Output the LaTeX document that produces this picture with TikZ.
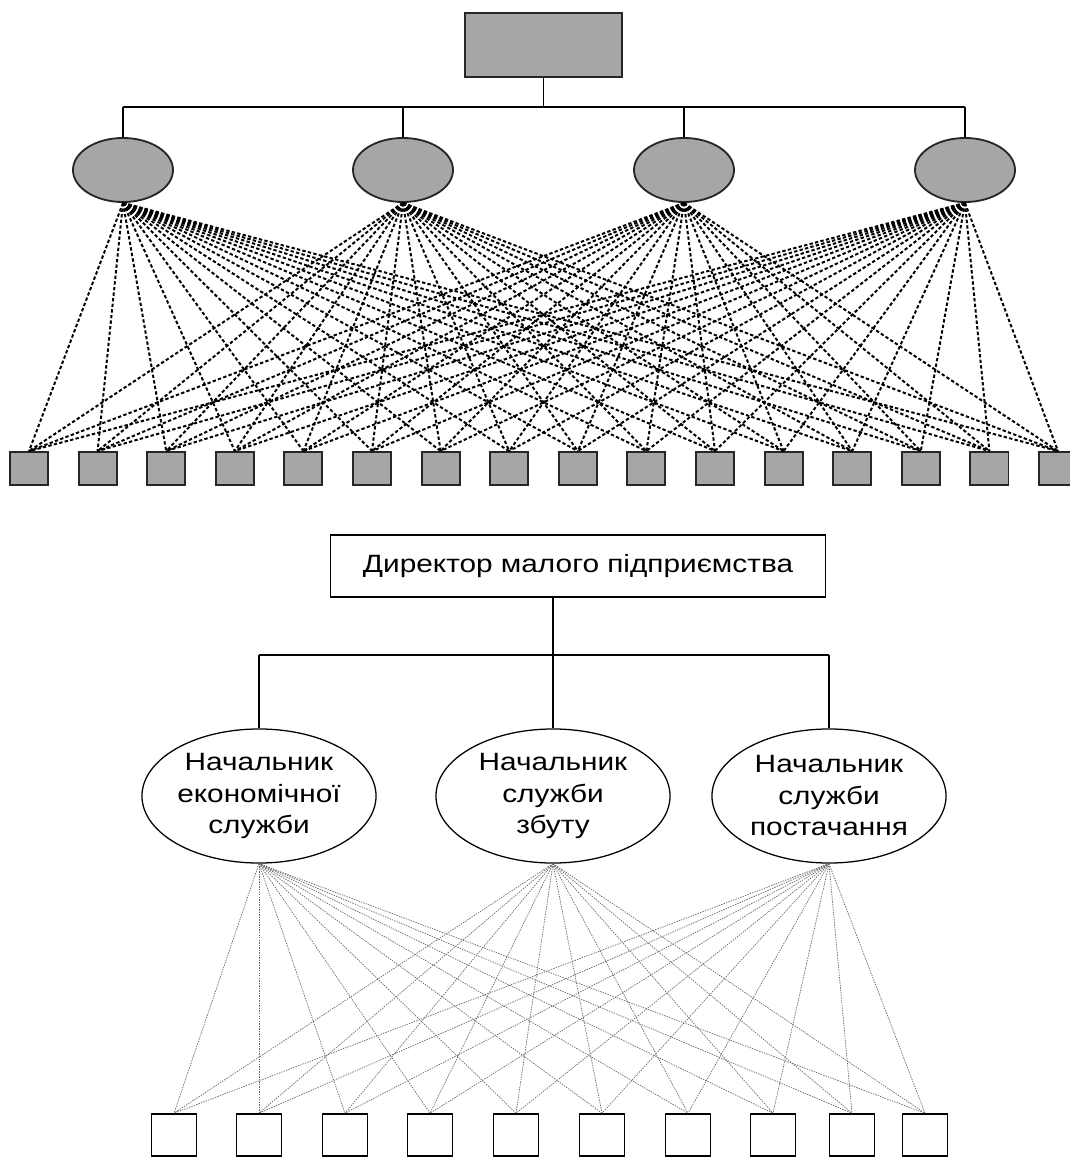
\documentclass[tikz,border=0pt]{standalone}
\usepackage{fontspec}
\newfontfamily\rotulo[FakeStretch=1.19]{Liberation Sans}
\usetikzlibrary{shapes.geometric}
\tikzset{
  bloco/.style={draw=black!85, line width=1.3pt, fill=black!35, minimum width=#1, minimum height=0.825cm, inner sep=0pt},
  bloco/.default=0.95cm,
  oval/.style={ellipse, draw=black!85, line width=1.3pt, fill=black!35, minimum width=2.5cm, minimum height=1.6cm, inner sep=0pt},
  quadro/.style={draw, line width=1pt, fill=white, minimum width=12.375cm, minimum height=1.55cm, inner sep=0pt, font=\rotulo\fontsize{17.8}{22.4}\selectfont},
  balao/.style={ellipse, draw, line width=0.9pt, minimum width=5.85cm, minimum height=3.35cm, inner sep=0pt, align=center, font=\rotulo\fontsize{17.8}{22.4}\selectfont},
  celula/.style={draw, line width=1.2pt, fill=white, minimum width=1.125cm, minimum height=1.05cm, inner sep=0pt},
  ramo/.style={line width=1.3pt},
  liga/.style={black, line width=1.4pt, dash pattern=on 2.4pt off 1.6pt},
  fio/.style={black!60, line width=0.5pt, dash pattern=on 1pt off 0.8pt},
}

\begin{document}
\begin{tikzpicture}[x=0.025cm, y=-0.025cm]
  \useasboundingbox (0,0) rectangle (1070,1158);

  % esquema de cima
  \node[bloco=3.925cm, minimum height=1.6cm] (chefe) at (543.5,45) {};
  \coordinate (barra) at (0,107);
  \foreach \n/\x in {o1/123, o2/403, o3/684, o4/965}
    \node[oval] (\n) at (\x,170) {};
  \foreach \i in {1,...,16}
    \node[bloco] (s\i) at ({29+68.6*(\i-1)},468.5) {};
  \draw[ramo] (chefe.south) -- (chefe.south |- barra);
  \draw[ramo] (o1.north |- barra) -- (o4.north |- barra);
  \foreach \n in {o1,o2,o3,o4}
    \draw[ramo] (\n.north |- barra) -- (\n.north);
  \foreach \n in {o1,o2,o3,o4}
    \foreach \i in {1,...,16}
      \draw[liga] (\n.south) -- (s\i.north);

  % esquema de baixo
  \node[quadro] (dir) at (578,566) {Директор малого підприємства};
  \coordinate (barra2) at (0,655);
  \node[balao] (ek) at (259,796) {Начальник\\економічної\\служби};
  \node[balao] (zb) at (553,796) {Начальник\\служби\\збуту};
  \node[balao] (po) at (829,796) {Начальник\\служби\\постачання};
  \foreach \i/\x in {1/174, 2/259, 3/345, 4/430, 5/516, 6/602, 7/688, 8/773, 9/852, 10/925}
    \node[celula] (c\i) at (\x,1135) {};
  \draw[ramo] (dir.south -| zb.north) -- (zb.north);
  \draw[ramo] (ek.north |- barra2) -- (po.north |- barra2);
  \draw[ramo] (ek.north |- barra2) -- (ek.north);
  \draw[ramo] (po.north |- barra2) -- (po.north);
  \foreach \n in {ek,zb,po}
    \foreach \i in {1,...,10}
      \draw[fio] (\n.south) -- (c\i.north);
\end{tikzpicture}
\end{document}
